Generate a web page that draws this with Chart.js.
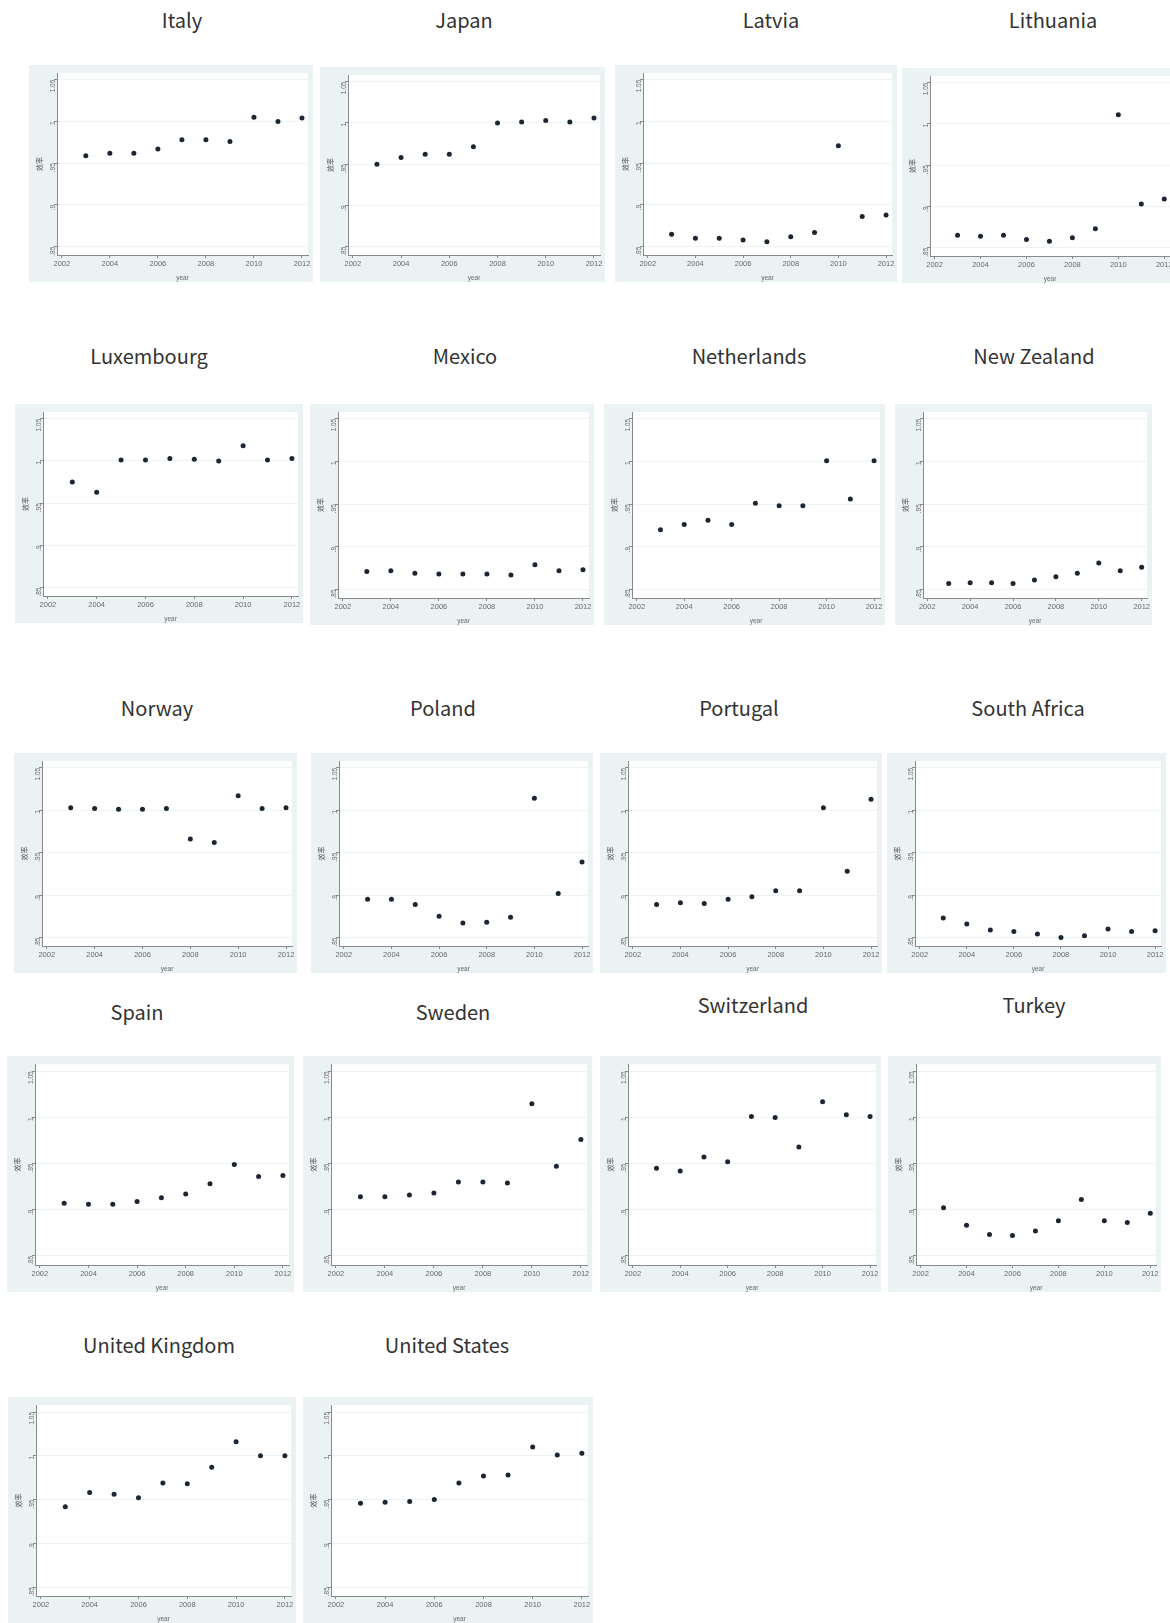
<!DOCTYPE html>
<html>
<head>
<meta charset="utf-8">
<script src="https://cdn.jsdelivr.net/npm/chart.js@4.4.1/dist/chart.umd.min.js"></script>
<style>
  html, body { margin: 0; padding: 0; background: #ffffff; }
  body { width: 1170px; height: 1623px; overflow: hidden; position: relative; font-family: "Noto Sans CJK SC", "Noto Sans", sans-serif; }
  .country { position: absolute; transform: translate(-50%, -50%); font-size: 20px; color: #333333; white-space: nowrap; }
  .panel { position: absolute; background: #eaf2f3; overflow: hidden; }
  .panel canvas { display: block; }
</style>
</head>
<body>
<script>
// Efficiency scores by country, 2003–2012
const years = [2003, 2004, 2005, 2006, 2007, 2008, 2009, 2010, 2011, 2012];
const xTickValues = [2002, 2004, 2006, 2008, 2010, 2012];
const yTickValues = [0.85, 0.9, 0.95, 1, 1.05];
const yTickLabels = ['.85', '.9', '.95', '1', '1.05'];

const countries = ['Italy', 'Japan', 'Latvia', 'Lithuania', 'Luxembourg', 'Mexico',
  'Netherlands', 'New Zealand', 'Norway', 'Poland', 'Portugal', 'South Africa',
  'Spain', 'Sweden', 'Switzerland', 'Turkey', 'United Kingdom', 'United States'];

const italy         = [0.959, 0.962, 0.962, 0.967, 0.978, 0.978, 0.976, 1.005, 1.000, 1.004];
const japan         = [0.950, 0.958, 0.962, 0.962, 0.971, 1.000, 1.001, 1.003, 1.001, 1.006];
const latvia        = [0.865, 0.860, 0.860, 0.858, 0.856, 0.862, 0.867, 0.971, 0.886, 0.888];
const lithuania     = [0.865, 0.864, 0.865, 0.860, 0.858, 0.862, 0.873, 1.011, 0.903, 0.909];
const luxembourg    = [0.975, 0.963, 1.001, 1.001, 1.003, 1.002, 1.000, 1.018, 1.001, 1.003];
const mexico        = [0.871, 0.872, 0.869, 0.868, 0.868, 0.868, 0.867, 0.879, 0.872, 0.873];
const netherlands   = [0.920, 0.926, 0.931, 0.926, 0.951, 0.948, 0.948, 1.001, 0.956, 1.001];
const newZealand    = [0.857, 0.858, 0.858, 0.857, 0.861, 0.865, 0.869, 0.881, 0.872, 0.876];
const norway        = [1.003, 1.002, 1.001, 1.001, 1.002, 0.966, 0.962, 1.017, 1.002, 1.003];
const poland        = [0.895, 0.895, 0.889, 0.875, 0.867, 0.868, 0.874, 1.014, 0.902, 0.939];
const portugal      = [0.889, 0.891, 0.890, 0.895, 0.898, 0.905, 0.905, 1.003, 0.928, 1.013];
const southAfrica   = [0.873, 0.866, 0.859, 0.857, 0.854, 0.850, 0.852, 0.860, 0.857, 0.858];
const spain         = [0.907, 0.906, 0.906, 0.909, 0.913, 0.917, 0.928, 0.949, 0.936, 0.937];
const sweden        = [0.914, 0.914, 0.916, 0.918, 0.930, 0.930, 0.929, 1.015, 0.947, 0.976];
const switzerland   = [0.945, 0.942, 0.957, 0.952, 1.001, 1.000, 0.968, 1.017, 1.003, 1.001];
const turkey        = [0.902, 0.883, 0.873, 0.872, 0.877, 0.888, 0.911, 0.888, 0.886, 0.896];
const unitedKingdom = [0.942, 0.958, 0.956, 0.952, 0.969, 0.968, 0.987, 1.016, 1.000, 1.000];
const unitedStates  = [0.946, 0.947, 0.948, 0.950, 0.969, 0.977, 0.978, 1.010, 1.001, 1.003];

const seriesList = [italy, japan, latvia, lithuania, luxembourg, mexico,
  netherlands, newZealand, norway, poland, portugal, southAfrica,
  spain, sweden, switzerland, turkey, unitedKingdom, unitedStates];

// Page layout: panel boxes [left, top, width, height] and title centres [x, y]
const panelBoxes = [
  [29, 65, 284, 217], [320, 67, 285, 215], [615, 65, 282, 217], [902, 68, 273, 215],
  [15, 404, 288, 219], [310, 404, 284, 221], [604, 404, 281, 221], [895, 404, 257, 221],
  [14, 753, 283, 220], [311, 753, 282, 220], [600, 753, 282, 220], [887, 753, 279, 220],
  [7, 1056, 287, 236], [303, 1056, 289, 236], [600, 1056, 281, 236], [888, 1056, 273, 236],
  [8, 1397, 288, 226], [303, 1397, 290, 226]
];
const titleCenters = [
  [182, 19], [464, 19], [771, 19], [1053, 19],
  [149, 355], [465, 355], [749, 355], [1034, 355],
  [157, 707], [443, 707], [739, 707], [1028, 707],
  [137, 1011], [453, 1011], [753, 1004], [1034, 1004],
  [159, 1344], [447, 1344]
];

// White plot region behind the markers
const plotRegion = {
  id: 'plotRegion',
  beforeDraw(chart) {
    const a = chart.chartArea, ctx = chart.ctx;
    ctx.save();
    ctx.fillStyle = '#ffffff';
    ctx.fillRect(a.left, a.top, a.right - a.left, a.bottom - a.top);
    ctx.restore();
  }
};

countries.forEach((name, i) => {
  const [left, top, w, h] = panelBoxes[i];
  const [cx, cy] = titleCenters[i];

  const t = document.createElement('div');
  t.className = 'country';
  t.style.left = cx + 'px';
  t.style.top = cy + 'px';
  t.textContent = name;
  document.body.appendChild(t);

  const panel = document.createElement('div');
  panel.className = 'panel';
  panel.style.left = left + 'px';
  panel.style.top = top + 'px';
  panel.style.width = w + 'px';
  panel.style.height = h + 'px';
  const canvas = document.createElement('canvas');
  canvas.width = w;
  canvas.height = h;
  panel.appendChild(canvas);
  document.body.appendChild(panel);

  const values = seriesList[i];
  new Chart(canvas, {
    type: 'scatter',
    data: {
      datasets: [{
        data: years.map((yr, k) => ({ x: yr, y: values[k] })),
        pointRadius: 2.5,
        pointBackgroundColor: '#1c2633',
        pointBorderWidth: 0,
        showLine: false
      }]
    },
    options: {
      responsive: false,
      animation: false,
      events: [],
      plugins: { legend: { display: false }, tooltip: { enabled: false } },
      layout: { padding: { top: 8, right: 5, left: 0, bottom: 0 } },
      scales: {
        x: {
          type: 'linear',
          min: 2001.8,
          max: 2012.25,
          afterBuildTicks: s => { s.ticks = xTickValues.map(v => ({ value: v })); },
          afterFit: s => { s.height = 27; },
          ticks: { font: { size: 7.5 }, color: '#6a6a6a', padding: 1, maxRotation: 0, autoSkip: false, callback: v => String(v) },
          grid: { drawOnChartArea: false, tickLength: 3, tickColor: '#8a8a8a' },
          border: { color: '#8a8a8a' },
          title: { display: true, text: 'year', font: { size: 6.5 }, color: '#6a6a6a', padding: 0 }
        },
        y: {
          min: 0.84,
          max: 1.058,
          afterBuildTicks: s => { s.ticks = yTickValues.map(v => ({ value: v })); },
          afterFit: s => { s.width = 28; },
          ticks: { font: { size: 6.5 }, color: '#6a6a6a', padding: 1, minRotation: 90, maxRotation: 90, autoSkip: false,
                   callback: (v, k) => yTickLabels[k] },
          grid: { color: '#eef3f3', tickLength: 3, tickColor: '#8a8a8a' },
          border: { color: '#8a8a8a' },
          title: { display: true, text: '效率', font: { size: 7, family: '"Noto Sans CJK SC"' }, color: '#555', padding: { top: 6, bottom: 0 } }
        }
      }
    },
    plugins: [plotRegion]
  });
});
</script>
</body>
</html>
